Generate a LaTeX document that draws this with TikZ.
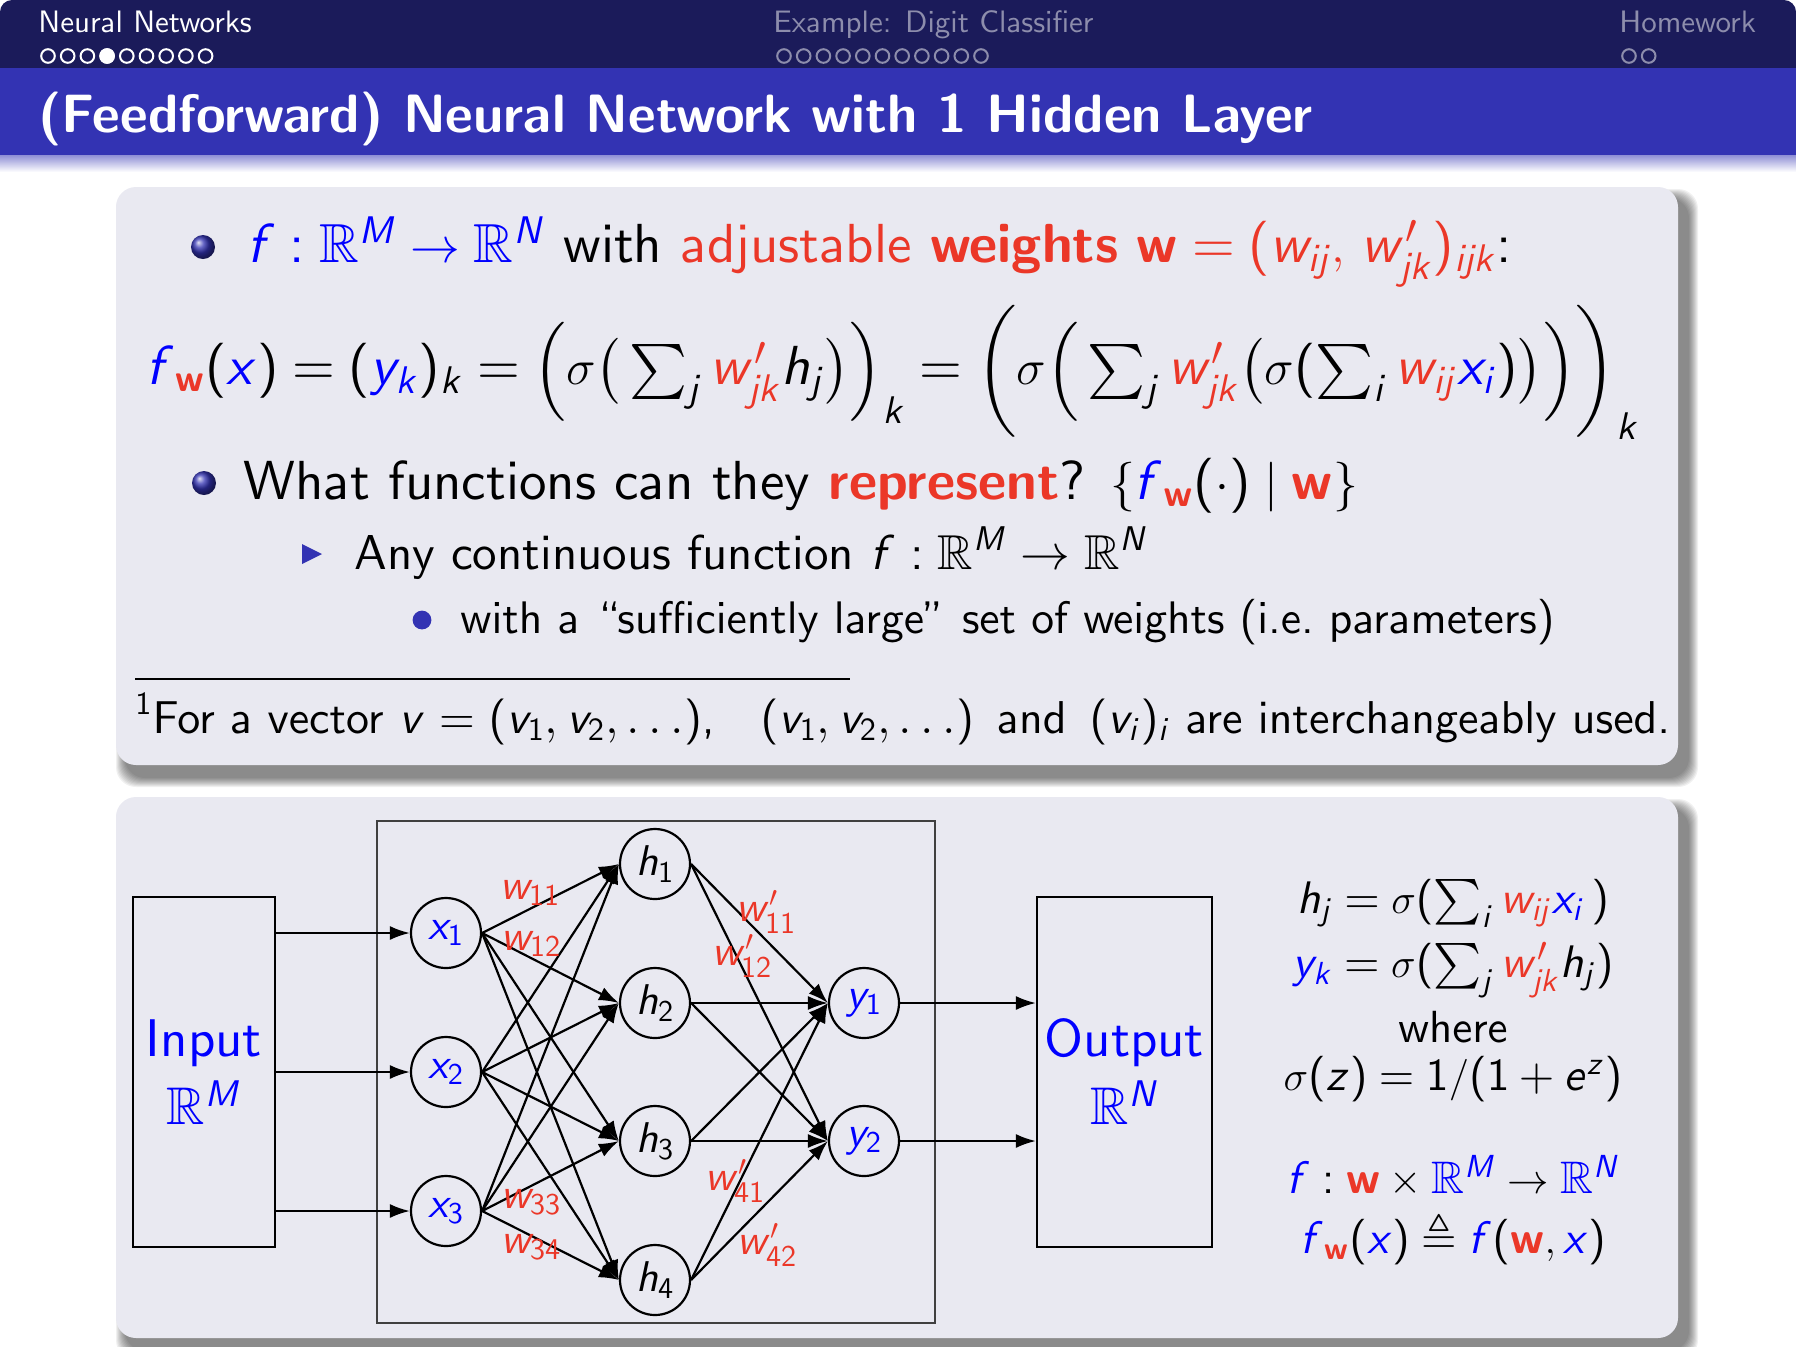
\documentclass[tikz,border=0pt]{standalone}
\usepackage[OT1]{fontenc}
\usepackage{amsmath,amssymb}
\usetikzlibrary{arrows.meta,positioning}
% the 10pt design of Computer Modern Sans, scaled to every size
\DeclareFontFamily{OT1}{cmssten}{}
\DeclareFontShape{OT1}{cmssten}{m}{n}{<->cmss10}{}
\DeclareFontShape{OT1}{cmssten}{m}{sl}{<->cmssi10}{}
\DeclareFontShape{OT1}{cmssten}{m}{it}{<->ssub*cmssten/m/sl}{}
\DeclareFontShape{OT1}{cmssten}{bx}{n}{<->cmssbx10}{}
\DeclareFontShape{OT1}{cmssten}{b}{n}{<->ssub*cmssten/bx/n}{}
\renewcommand{\sfdefault}{cmssten}
\renewcommand{\familydefault}{\sfdefault}
% sans serif math as on the slides
\SetSymbolFont{operators}{normal}{OT1}{cmssten}{m}{n}
\DeclareSymbolFont{sfitalic}{OT1}{cmssten}{m}{sl}
\DeclareMathAlphabet{\mathsfbf}{OT1}{cmssten}{bx}{n}
\makeatletter
\newcommand\sfletter[1]{\DeclareMathSymbol{#1}{\mathalpha}{sfitalic}{`#1}}
\@tfor\ch:=abcdefghijklmnopqrstuvwxyzMN\do{\expandafter\sfletter\expandafter{\ch}}
\makeatother
\definecolor{headnavy}{RGB}{27,27,90}
\definecolor{headgray}{RGB}{141,141,172}
\definecolor{titleblue}{RGB}{51,51,179}
\definecolor{blockbg}{RGB}{233,233,241}
\definecolor{alertred}{RGB}{235,55,40}
\definecolor{mathblue}{RGB}{0,0,255}
\newcommand\headfont{\fontsize{15.5}{18}\selectfont}
\newcommand\titlefont{\fontsize{27}{32}\selectfont\bfseries}
\newcommand\bodyfont{\fontsize{27.5}{33}\selectfont}
\newcommand\subfont{\fontsize{24.5}{29}\selectfont}
\newcommand\subsubfont{\fontsize{22.8}{27}\selectfont}
\newcommand\footfont{\fontsize{23}{27}\selectfont}
\newcommand\netfont{\fontsize{21.5}{25}\selectfont}
\newcommand\eqnfont{\fontsize{22.8}{27}\selectfont}
\newcommand\wb{\textcolor{alertred}{\mathsfbf{w}}}
\tikzset{
  bodyline/.style={anchor=base west,inner sep=0pt},
  unit/.style={circle,draw,line width=1.1pt,minimum size=35pt,inner sep=0pt,font=\netfont},
  conn/.style={line width=1.1pt,-{Latex[length=10pt,width=7pt]}},
  wlab/.style={text=alertred,inner sep=0pt,font=\netfont},
  eqn/.style={anchor=base,inner sep=0pt,font=\eqnfont},
  iobox/.style={draw,line width=1.1pt,minimum width=#1,minimum height=175pt,align=center,text=mathblue,
    font=\fontsize{26.5}{34}\selectfont},
  blockshadow/.style={black,opacity=.06,rounded corners=10pt},
}
\begin{document}
\begin{tikzpicture}[x=0.5pt,y=-0.5pt]
\useasboundingbox (0,0) rectangle (1796,1346);
% headline and frame title
\fill[headnavy] (0,68) [rounded corners=6pt] -- (0,0) -- (1796,0) [sharp corners] -- (1796,68) -- cycle;
\fill[titleblue] (0,68) rectangle (1796,155);
\shade[top color=titleblue!55!white,bottom color=white] (0,155) rectangle (1796,172);
\node[bodyline,text=white,font=\headfont] (sec1) at (38,32) {Neural Networks};
\node[bodyline,text=headgray,font=\headfont] (sec2) at (773,32) {Example: Digit Classifier};
\node[bodyline,text=headgray,font=\headfont] (sec3) at (1619,32) {Homework};
\foreach \n in {0,...,8} \draw[white,line width=1pt] ({48+19.7*\n},56) circle (3.4pt);
\fill[white] ({48+19.7*3},56) circle (3.9pt);
\foreach \n in {0,...,10} \draw[headgray,line width=1pt] ({784+19.7*\n},56) circle (3.4pt);
\foreach \n in {0,1} \draw[headgray,line width=1pt] ({1629+19.7*\n},56) circle (3.4pt);
\node[bodyline,text=white,font=\titlefont] (title) at (38,132) {(Feedforward) Neural Network with 1 Hidden Layer};
% blocks with shadows
\foreach \k in {0,...,9} {
  \fill[blockshadow] ({116+\k},{199-10+\k}) rectangle ({1698-\k},{787-\k});
  \fill[blockshadow] ({116+\k},{809-10+\k}) rectangle ({1698-\k},{1360-\k});
}
\fill[blockbg,rounded corners=10pt] (116,187) rectangle (1678,765);
\fill[blockbg,rounded corners=10pt] (116,797) rectangle (1678,1338);
% top block text
\shade[ball color=titleblue] (203,247) circle (6pt);
\node[bodyline,font=\bodyfont] (item1) at (247,262)
  {\textcolor{mathblue}{$f:\mathbb{R}^M\to\mathbb{R}^N$} with \textcolor{alertred}{adjustable \textbf{weights} $\mathsfbf{w}=(w_{ij},\,w'_{jk})_{ijk}$}:};
\node[bodyline,font=\bodyfont] (formula) at (146,384)
  {$\textcolor{mathblue}{f}_{\wb}(\textcolor{mathblue}{x})=(\textcolor{mathblue}{y_k})_k=\Bigl(\sigma\bigl(\,\sum_j\textcolor{alertred}{w'_{jk}}h_j\bigr)\Bigr)_k=\biggl(\sigma\Bigl(\,\sum_j\textcolor{alertred}{w'_{jk}}\bigl(\sigma(\sum_i\textcolor{alertred}{w_{ij}}\textcolor{mathblue}{x_i})\bigr)\Bigr)\biggr)_k$};
\shade[ball color=titleblue] (204,483) circle (6pt);
\node[bodyline,font=\bodyfont] (item2) at (243,499)
  {What functions can they \textcolor{alertred}{\textbf{represent}}? $\{\textcolor{mathblue}{f}_{\wb}(\cdot)\mid\wb\}$};
\fill[titleblue] (302,544) -- (322,554) -- (302,564) -- cycle;
\node[bodyline,font=\subfont] (item21) at (354,569) {Any continuous function $f:\mathbb{R}^M\to\mathbb{R}^N$};
\fill[titleblue] (422,620) circle (4.7pt);
\node[bodyline,font=\subsubfont] (item211) at (460,633) {with a ``sufficiently large'' set of weights (i.e.\ parameters)};
\draw[line width=.8pt] (135,679) -- (850,679);
\node[bodyline,font=\footfont] (foot) at (135,733)
  {\textsuperscript{1}For a vector $v=(v_1,v_2,\ldots)$,\quad$(v_1,v_2,\ldots)$\enspace and\enspace$(v_i)_i$ are interchangeably used.};
% network
\node[draw=black!75,line width=.9pt,minimum width=279pt,minimum height=251pt] (netbox) at (656,1072) {};
\node[iobox=71pt] (inbox) at (204,1072) {Input\\$\mathbb{R}^M$};
\node[iobox=87.5pt] (outbox) at (1124.5,1072) {Output\\$\mathbb{R}^N$};
\foreach \i/\yy in {1/933,2/1072,3/1211} \node[unit,text=mathblue] (x\i) at (446,\yy) {$x_\i$};
\foreach \j/\yy in {1/864,2/1003,3/1141,4/1280} \node[unit] (h\j) at (655,\yy) {$h_\j$};
\foreach \k/\yy in {1/1003,2/1141} \node[unit,text=mathblue] (y\k) at (864,\yy) {$y_\k$};
\foreach \i in {1,2,3} {
  \draw[conn] (inbox.east |- x\i) -- (x\i.west);
  \foreach \j in {1,...,4} \draw[conn] (x\i.east) -- (h\j.west);
}
\foreach \j in {1,...,4} \foreach \k in {1,2} \draw[conn] (h\j.east) -- (y\k.west);
\foreach \k in {1,2} \draw[conn] (y\k.east) -- (outbox.west |- y\k);
\node[wlab] (lw11) at (530,893) {$w_{11}$};
\node[wlab] (lw12) at (531,944) {$w_{12}$};
\node[wlab] (lw33) at (531,1202) {$w_{33}$};
\node[wlab] (lw34) at (531,1247) {$w_{34}$};
\node[wlab] (lv11) at (766,912) {$w'_{11}$};
\node[wlab] (lv12) at (742,956) {$w'_{12}$};
\node[wlab] (lv41) at (735,1181) {$w'_{41}$};
\node[wlab] (lv42) at (767,1245) {$w'_{42}$};
% equations at the right
\node[eqn] (eqh) at (1453,913) {$h_j=\sigma(\sum_i\textcolor{alertred}{w_{ij}}\textcolor{mathblue}{x_i}\,)$};
\node[eqn] (eqy) at (1453,977) {$\textcolor{mathblue}{y_k}=\sigma(\sum_j\textcolor{alertred}{w'_{jk}}h_j)$};
\node[eqn,font=\fontsize{22.5}{27}\selectfont] (where) at (1453,1042) {where};
\node[eqn] (eqsig) at (1453,1090) {$\sigma(z)=1/(1+e^z)$};
\node[eqn] (eqf) at (1453,1193) {$\textcolor{mathblue}{f}:\wb\times\textcolor{mathblue}{\mathbb{R}^M}\to\textcolor{mathblue}{\mathbb{R}^N}$};
\node[eqn] (eqfw) at (1453,1253) {$\textcolor{mathblue}{f}_{\wb}(\textcolor{mathblue}{x})\triangleq\textcolor{mathblue}{f}(\wb,\textcolor{mathblue}{x})$};
\end{tikzpicture}
\end{document}
